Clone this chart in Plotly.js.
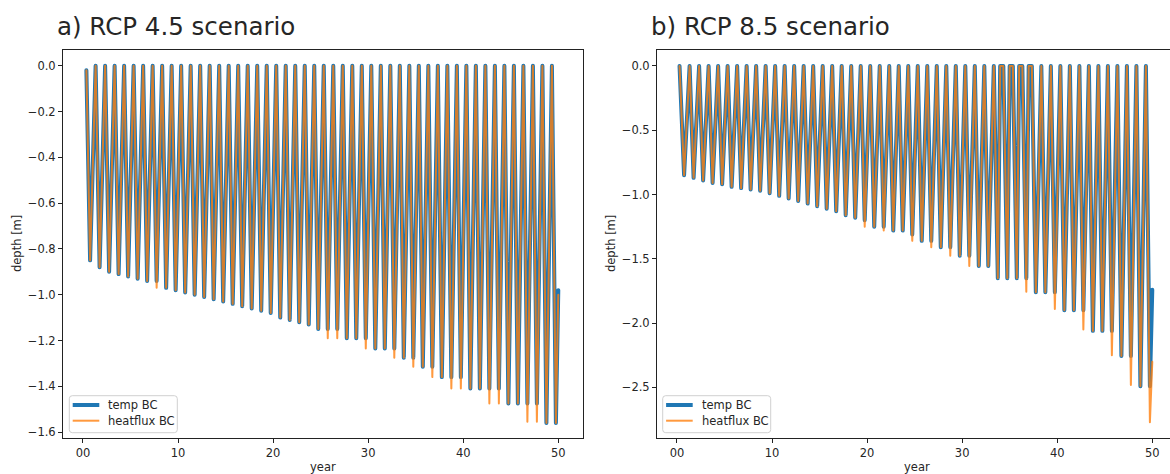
<!DOCTYPE html>
<html><head><meta charset="utf-8">
<script src="https://cdn.plot.ly/plotly-3.0.1.min.js"></script>
<style>
html,body{margin:0;padding:0;overflow:hidden;background:#fff;}
#chart{width:1180px;height:474px;}
.js-line{stroke-linejoin:round !important;stroke-linecap:round !important;}
</style></head><body><div id="chart"></div><script>
// ---- data ----
// seasonal timing (fraction of year): surface frozen / thaw onset, and time of maximum thaw depth
const thawOnsetPhase = 0.33;
const maxThawPhase = 0.75;
const earlyRefreezePhase = 0.0;

// yearly maximum depth [m], years 0..49
const rcp45TempMaxDepth = [-0.85,-0.88,-0.90,-0.91,-0.92,-0.93,-0.94,-0.94,-0.97,-0.98,
-0.99,-1.00,-1.01,-1.02,-1.03,-1.04,-1.05,-1.06,-1.07,-1.08,
-1.10,-1.11,-1.12,-1.13,-1.15,-1.15,-1.15,-1.19,-1.19,-1.19,
-1.235,-1.235,-1.235,-1.275,-1.275,-1.315,-1.315,-1.36,-1.36,-1.36,
-1.41,-1.41,-1.41,-1.41,-1.475,-1.475,-1.475,-1.475,-1.56,-1.56];
const rcp45FluxMaxDepth = [-0.85,-0.88,-0.90,-0.91,-0.92,-0.93,-0.94,-0.97,-0.97,-0.98,
-0.99,-1.00,-1.01,-1.02,-1.03,-1.04,-1.05,-1.06,-1.07,-1.08,
-1.10,-1.11,-1.12,-1.13,-1.15,-1.19,-1.19,-1.19,-1.19,-1.235,
-1.235,-1.235,-1.275,-1.275,-1.315,-1.315,-1.36,-1.36,-1.41,-1.41,
-1.41,-1.41,-1.475,-1.475,-1.475,-1.475,-1.555,-1.555,-1.56,-1.56];
const rcp85TempMaxDepth = [-0.85,-0.87,-0.89,-0.91,-0.92,-0.94,-0.95,-0.96,-0.97,-0.99,
-1.01,-1.03,-1.05,-1.07,-1.09,-1.11,-1.13,-1.16,-1.18,-1.20,
-1.25,-1.25,-1.28,-1.28,-1.31,-1.36,-1.36,-1.41,-1.41,-1.475,
-1.475,-1.555,-1.555,-1.65,-1.65,-1.65,-1.65,-1.76,-1.76,-1.76,
-1.90,-1.90,-1.90,-2.06,-2.06,-2.06,-2.255,-2.255,-2.49,-2.49];
const rcp85FluxMaxDepth = [-0.85,-0.87,-0.89,-0.91,-0.92,-0.94,-0.95,-0.96,-0.97,-0.99,
-1.01,-1.03,-1.05,-1.07,-1.09,-1.11,-1.13,-1.16,-1.18,-1.25,
-1.25,-1.28,-1.28,-1.28,-1.36,-1.36,-1.41,-1.41,-1.475,-1.475,
-1.555,-1.555,-1.555,-1.65,-1.65,-1.65,-1.755,-1.76,-1.76,-1.89,
-1.90,-1.90,-2.05,-2.06,-2.06,-2.25,-2.255,-2.48,-2.49,-2.77];
// years after which the thawed depth returns to 0 early and stays there a while (RCP 8.5)
const rcp85FlatTopYears = [33,34,35,36];
// series start / end values
const rcp45Start = [0.36, -0.02], rcp45TempEnd = [50.0, -0.98], rcp45FluxEnd = [50.0, -1.0];
const rcp85Start = [0.27, 0.0], rcp85TempEnd = [50.0, -1.74], rcp85FluxEnd = [50.0, -2.30];

const xTickVals = [0,10,20,30,40,50];
const xTickLabels = ["00","10","20","30","40","50"];
const seriesNames = ["temp BC","heatflux BC"];
const panelTitles = ["a) RCP 4.5 scenario","b) RCP 8.5 scenario"];

// ---- build series ----
function buildCycle(maxDepth, start, end, flatTopAfter){
  const xs=[start[0]], ys=[start[1]];
  for(let n=0;n<maxDepth.length;n++){
    xs.push(n+maxThawPhase); ys.push(maxDepth[n]);
    if(n<maxDepth.length-1){
      if(flatTopAfter.includes(n)){ xs.push(n+1+earlyRefreezePhase); ys.push(0); }
      xs.push(n+1+thawOnsetPhase); ys.push(0);
    }
  }
  xs.push(end[0]); ys.push(end[1]);
  return {xs, ys};
}
const a1 = buildCycle(rcp45TempMaxDepth, rcp45Start, rcp45TempEnd, []);
const a2 = buildCycle(rcp45FluxMaxDepth, rcp45Start, rcp45FluxEnd, []);
const b1 = buildCycle(rcp85TempMaxDepth, rcp85Start, rcp85TempEnd, rcp85FlatTopYears);
const b2 = buildCycle(rcp85FluxMaxDepth, rcp85Start, rcp85FluxEnd, rcp85FlatTopYears);

const BLUE='#1f77b4', ORANGE='rgba(255,127,14,0.8)';
const FONT='DejaVu Sans, sans-serif', TXT='#262626';
const traces=[
 {x:a1.xs,y:a1.ys,xaxis:'x',yaxis:'y',mode:'lines',name:seriesNames[0],line:{color:BLUE,width:4}},
 {x:a2.xs,y:a2.ys,xaxis:'x',yaxis:'y',mode:'lines',name:seriesNames[1],line:{color:ORANGE,width:2}},
 {x:b1.xs,y:b1.ys,xaxis:'x2',yaxis:'y2',mode:'lines',name:seriesNames[0],line:{color:BLUE,width:4}},
 {x:b2.xs,y:b2.ys,xaxis:'x2',yaxis:'y2',mode:'lines',name:seriesNames[1],line:{color:ORANGE,width:2}}
];
const W=1180,H=474;
const px=v=>v/W, py=v=>(H-v)/H;
const axCommon={showline:true,mirror:true,linecolor:'#222',linewidth:1,ticks:'outside',ticklen:4,tickwidth:1,tickcolor:'#222',
  showgrid:false,zeroline:false,tickfont:{family:FONT,size:11.5,color:TXT},fixedrange:true};
const ydom=[py(438),py(50)];

// legend drawn as shapes + text (matplotlib-style box in lower left of each panel)
const shapes=[], annotations=[];
function addLegend(left){
  const top=395.7, bottom=432.7, right=left+108, r=3;
  const X=v=>px(v), Y=v=>py(v);
  const path=`M${X(left+r)},${Y(top)} L${X(right-r)},${Y(top)} Q${X(right)},${Y(top)} ${X(right)},${Y(top+r)} `+
    `L${X(right)},${Y(bottom-r)} Q${X(right)},${Y(bottom)} ${X(right-r)},${Y(bottom)} `+
    `L${X(left+r)},${Y(bottom)} Q${X(left)},${Y(bottom)} ${X(left)},${Y(bottom-r)} `+
    `L${X(left)},${Y(top+r)} Q${X(left)},${Y(top)} ${X(left+r)},${Y(top)} Z`;
  shapes.push({type:'path',xref:'paper',yref:'paper',path:path,fillcolor:'rgba(255,255,255,0.8)',line:{color:'#d0d0d0',width:1}});
  const rows=[[405,BLUE,4,seriesNames[0]],[420.7,ORANGE,2,seriesNames[1]]];
  rows.forEach(([yy,col,w,label])=>{
    shapes.push({type:'line',xref:'paper',yref:'paper',x0:X(left+3.4),x1:X(left+30),y0:Y(yy),y1:Y(yy),line:{color:col,width:w}});
    annotations.push({text:label,xref:'paper',yref:'paper',x:X(left+37),y:Y(yy),xanchor:'left',yanchor:'middle',showarrow:false,
      font:{family:FONT,size:11.5,color:TXT}});
  });
}
addLegend(69.3);
addLegend(662.7);

annotations.push(
  {text:panelTitles[0],xref:'paper',yref:'paper',x:px(55),y:py(26),xanchor:'left',yanchor:'middle',showarrow:false,font:{family:FONT,size:24.5,color:TXT}},
  {text:panelTitles[1],xref:'paper',yref:'paper',x:px(649),y:py(26),xanchor:'left',yanchor:'middle',showarrow:false,font:{family:FONT,size:24.5,color:TXT}},
  {text:'depth [m]',xref:'paper',yref:'paper',x:px(17),y:py(244),xanchor:'center',yanchor:'middle',textangle:-90,showarrow:false,font:{family:FONT,size:11.5,color:TXT}},
  {text:'depth [m]',xref:'paper',yref:'paper',x:px(611),y:py(244),xanchor:'center',yanchor:'middle',textangle:-90,showarrow:false,font:{family:FONT,size:11.5,color:TXT}},
  {text:'year',xref:'paper',yref:'paper',x:px(323),y:py(467),xanchor:'center',yanchor:'middle',showarrow:false,font:{family:FONT,size:11.5,color:TXT}},
  {text:'year',xref:'paper',yref:'paper',x:px(917),y:py(467),xanchor:'center',yanchor:'middle',showarrow:false,font:{family:FONT,size:11.5,color:TXT}}
);

const layout={
  width:W,height:H,margin:{l:0,r:0,t:0,b:0},paper_bgcolor:'#fff',plot_bgcolor:'#fff',showlegend:false,
  xaxis:Object.assign({},axCommon,{domain:[px(63),px(583)],range:[-2.1,52.6],tickvals:xTickVals,ticktext:xTickLabels,anchor:'y'}),
  yaxis:Object.assign({},axCommon,{domain:ydom,range:[-1.626,0.069],tick0:0,dtick:0.2,tickformat:'.1f',anchor:'x'}),
  xaxis2:Object.assign({},axCommon,{domain:[px(657),px(1177)],range:[-2.1,52.6],tickvals:xTickVals,ticktext:xTickLabels,anchor:'y2'}),
  yaxis2:Object.assign({},axCommon,{domain:ydom,range:[-2.893,0.124],tick0:0,dtick:0.5,tickformat:'.1f',anchor:'x2'}),
  shapes:shapes,
  annotations:annotations
};
Plotly.newPlot('chart',traces,layout,{staticPlot:true,displayModeBar:false});
</script></body></html>
